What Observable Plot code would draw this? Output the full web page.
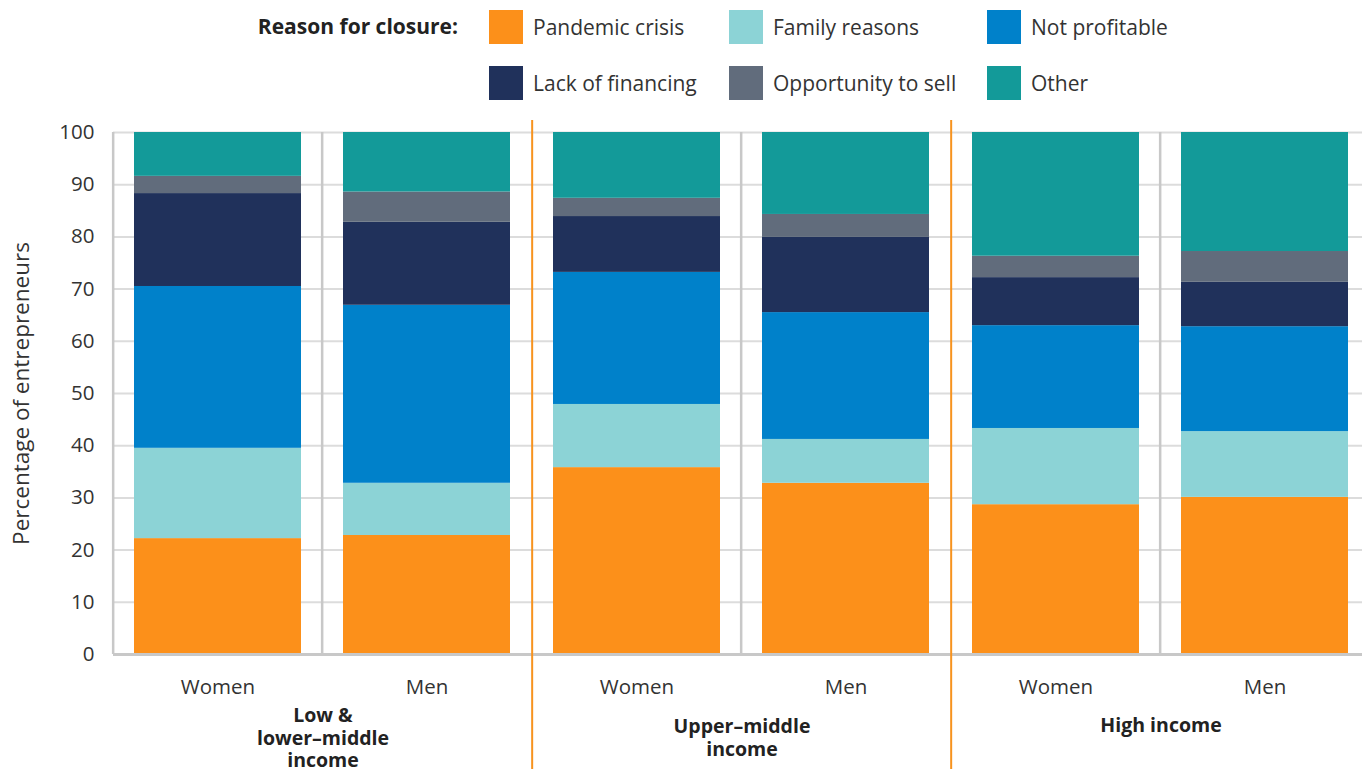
<!DOCTYPE html>
<html>
<head>
<meta charset="utf-8">
<script src="https://cdn.jsdelivr.net/npm/d3@7"></script>
<script src="https://cdn.jsdelivr.net/npm/@observablehq/plot@0.6"></script>
<style>
  html, body { margin: 0; padding: 0; background: #fff; overflow: hidden; }
  body { font-family: "Open Sans", sans-serif; color: #333; width: 1362px; height: 769px; }
  #legend { position: relative; width: 1362px; height: 110px; }
  #legend .title { position: absolute; right: calc(1362px - 458px); top: 11px; font-weight: 700; font-size: 21px; color: #222; line-height: 30px; }
  #legend .item { position: absolute; display: flex; align-items: center; font-size: 21px; color: #333; }
  #legend .sw { width: 34px; height: 34px; margin-right: 10px; flex: none; }
  #chart { width: 1362px; height: 659px; overflow: hidden; position: relative; }
  #chart svg { display: block; max-width: none !important; width: 1370px !important; height: 659px !important; }
</style>
</head>
<body>
<div id="legend"></div>
<div id="chart"></div>
<script>
// ---- data ----
const groups = ["Low & lower–middle income", "Upper–middle income", "High income"];
const groupLabels = ["Low &\nlower–middle\nincome", "Upper–middle\nincome", "High income"];
const genders = ["Women", "Men"];
const reasons = ["Pandemic crisis", "Family reasons", "Not profitable", "Lack of financing", "Opportunity to sell", "Other"];
const colors = ["#FC901A", "#8CD3D6", "#0081CA", "#20315B", "#616C7C", "#139A99"];
const yTitle = "Percentage of entrepreneurs";
// order of bars: Low W, Low M, Upper W, Upper M, High W, High M
const pandemic      = [22.2, 22.8, 35.8, 32.8, 28.7, 30.1];
const family        = [17.3, 10.0, 12.1,  8.4, 14.6, 12.6];
const notProfitable = [31.0, 34.1, 25.3, 24.3, 19.7, 20.1];
const lackFinancing = [17.8, 15.9, 10.7, 14.4,  9.2,  8.5];
const opportunity   = [ 3.3,  5.8,  3.5,  4.4,  4.1,  5.9];
const other         = [ 8.4, 11.4, 12.6, 15.7, 23.7, 22.8];
const yTicks = [0, 10, 20, 30, 40, 50, 60, 70, 80, 90, 100];

const series = [pandemic, family, notProfitable, lackFinancing, opportunity, other];
const rows = [];
series.forEach((vals, r) => {
  vals.forEach((v, i) => {
    rows.push({reason: reasons[r], group: groups[Math.floor(i / 2)], gender: genders[i % 2], value: v});
  });
});

// ---- legend ----
const legend = document.getElementById("legend");
const t = document.createElement("div");
t.className = "title"; t.textContent = "Reason for closure:";
legend.appendChild(t);
const colX = [489, 729, 987];
const rowY = [10, 66];
reasons.forEach((r, i) => {
  const it = document.createElement("div");
  it.className = "item";
  it.style.left = colX[i % 3] + "px";
  it.style.top = rowY[Math.floor(i / 3)] + "px";
  it.innerHTML = `<div class="sw" style="background:${colors[i]}"></div><span>${r}</span>`;
  legend.appendChild(it);
});

// ---- chart ----
const W = 1370, H = 659, mL = 112, mR = 0, mT = 22, mB = 115;
const facetW = (W - mL - mR) / groups.length;
const step = facetW / (genders.length - 0.2 + 0.2);
const half = step / 2;

const menEdges = groups.map(g => ({group: g, gender: "Men"}));
const firstEdge = [{group: groups[0], gender: "Women"}];
const sepEdges = groups.slice(1).map(g => ({group: g, gender: "Women"}));
const labels = groups.map((g, i) => ({group: g, label: groupLabels[i]}));

const plot = Plot.plot({
  width: W, height: H,
  marginLeft: mL, marginRight: mR, marginTop: mT, marginBottom: mB,
  style: {fontFamily: "Open Sans, sans-serif", fontSize: "20.5px", color: "#333", background: "#fff", maxWidth: "none"},
  fx: {domain: groups, padding: 0, axis: null, label: null},
  x: {domain: genders, paddingInner: 0.2, paddingOuter: 0.1, tickSize: 0, tickPadding: 25, label: null},
  y: {domain: [0, 100], ticks: yTicks, tickSize: 0, tickPadding: 19, label: null},
  color: {domain: reasons, range: colors},
  marks: [
    Plot.ruleY(yTicks, {stroke: "#dcdcdc", strokeWidth: 2}),
    Plot.ruleX(menEdges, {fx: "group", x: "gender", dx: -half, stroke: "#c8c8c8", strokeWidth: 2.5}),
    Plot.ruleX(firstEdge, {fx: "group", x: "gender", dx: -half, stroke: "#c8c8c8", strokeWidth: 2.5}),
    Plot.barY(rows, {fx: "group", x: "gender", y: "value", fill: "reason"}),
    Plot.ruleY([0], {stroke: "#c8c8c8", strokeWidth: 3}),
    Plot.ruleX(sepEdges, {fx: "group", x: "gender", dx: -half, stroke: "#F7931E", strokeWidth: 2, insetTop: -12, insetBottom: -mB}),
    Plot.text([{group: groups[0], label: yTitle}], {fx: "group", text: "label", frameAnchor: "left", textAnchor: "middle", rotate: -90, dx: -92, fontSize: 22.5, fill: "#333"}),
    Plot.text(labels.filter(d => d.group !== groups[2]), {fx: "group", text: "label", frameAnchor: "bottom", lineAnchor: "middle", dy: 83, fontWeight: 700, fontSize: 19.5, fill: "#222", lineHeight: 1.15}),
    Plot.text(labels.filter(d => d.group === groups[2]), {fx: "group", text: "label", frameAnchor: "bottom", lineAnchor: "middle", dy: 71, fontWeight: 700, fontSize: 19.5, fill: "#222"})
  ]
});
document.getElementById("chart").appendChild(plot);
</script>
</body>
</html>
